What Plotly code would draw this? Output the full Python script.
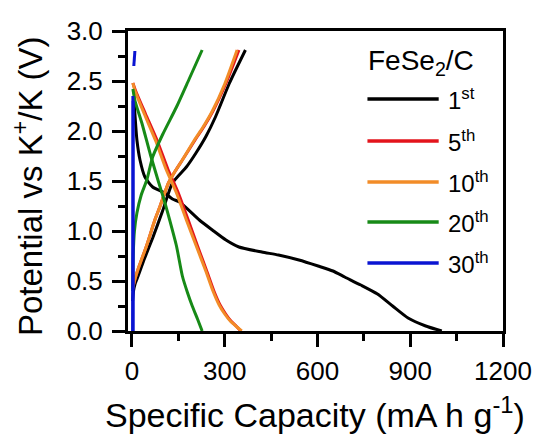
import plotly.graph_objects as go

# ---- data ----
cycles = ["1<sup>st</sup>", "5<sup>th</sup>", "10<sup>th</sup>", "20<sup>th</sup>", "30<sup>th</sup>"]
colors = ["#000000", "#E3141C", "#F28C28", "#178A17", "#0A14D2"]

c1_dis_x = [6, 10, 16, 26, 42, 67, 106, 131, 154, 218, 260, 304, 346, 420, 474, 540, 602, 650, 688, 740, 794, 843, 893, 950, 1002]
c1_dis_y = [2.35, 2.15, 1.91, 1.71, 1.54, 1.44, 1.38, 1.32, 1.29, 1.11, 1.01, 0.91, 0.84, 0.79, 0.76, 0.71, 0.65, 0.60, 0.54, 0.46, 0.37, 0.25, 0.13, 0.05, 0.0]
c1_ch_x = [2, 5, 10, 20, 40, 67, 99, 131, 176, 207, 240, 270, 314, 340, 367]
c1_ch_y = [0.30, 0.40, 0.47, 0.55, 0.72, 0.93, 1.20, 1.48, 1.64, 1.78, 1.95, 2.14, 2.47, 2.64, 2.81]

c5_dis_x = [3, 12, 44, 82, 116, 150, 182, 212, 243, 265, 285, 303, 320, 337, 352]
c5_dis_y = [2.48, 2.40, 2.17, 1.90, 1.62, 1.38, 1.11, 0.85, 0.59, 0.40, 0.26, 0.17, 0.10, 0.05, 0.0]
c5_ch_x = [2, 8, 20, 47, 74, 90, 118, 140, 163, 204, 232, 262, 303, 346]
c5_ch_y = [0.42, 0.50, 0.62, 0.85, 1.11, 1.24, 1.48, 1.60, 1.71, 1.91, 2.04, 2.20, 2.47, 2.81]

c10_dis_x = [3, 10, 40, 77, 110, 144, 176, 208, 240, 262, 282, 300, 318, 336, 355]
c10_dis_y = [2.48, 2.40, 2.17, 1.90, 1.62, 1.38, 1.11, 0.85, 0.59, 0.40, 0.26, 0.17, 0.10, 0.05, 0.0]
c10_ch_x = [2, 8, 20, 47, 74, 90, 118, 140, 163, 202, 230, 260, 300, 340]
c10_ch_y = [0.42, 0.50, 0.62, 0.85, 1.11, 1.24, 1.48, 1.60, 1.71, 1.91, 2.04, 2.20, 2.47, 2.81]

c20_dis_x = [3, 10, 32, 60, 85, 105, 122, 144, 163, 180, 195, 212, 227]
c20_dis_y = [2.42, 2.30, 2.08, 1.76, 1.50, 1.30, 1.11, 0.85, 0.55, 0.38, 0.25, 0.12, 0.0]
c20_ch_x = [2, 4, 8, 16, 30, 48, 67, 100, 144, 185, 227]
c20_ch_y = [0.40, 0.75, 1.00, 1.18, 1.36, 1.51, 1.74, 1.97, 2.24, 2.52, 2.81]

c30_dis_x = [3, 3.5, 4, 4]
c30_dis_y = [2.35, 1.50, 0.50, 0.0]
c30_ch_x = [2, 3, 4, None, 6, 9.5]
c30_ch_y = [0.0, 1.2, 2.3, None, 2.65, 2.80]

x_ticks = [0, 300, 600, 900, 1200]
y_ticks = [0.0, 0.5, 1.0, 1.5, 2.0, 2.5, 3.0]

series = [
    (c1_dis_x, c1_dis_y, c1_ch_x, c1_ch_y),
    (c5_dis_x, c5_dis_y, c5_ch_x, c5_ch_y),
    (c10_dis_x, c10_dis_y, c10_ch_x, c10_ch_y),
    (c20_dis_x, c20_dis_y, c20_ch_x, c20_ch_y),
    (c30_dis_x, c30_dis_y, c30_ch_x, c30_ch_y),
]

FONT = "Liberation Sans, Arial, sans-serif"
fig = go.Figure()
for (dx, dy, cx, cy), name, col in zip(series, cycles, colors):
    fig.add_trace(go.Scatter(x=dx, y=dy, mode="lines", name=name,
                             line=dict(color=col, width=3, shape="spline", smoothing=0.6),
                             showlegend=False))
    fig.add_trace(go.Scatter(x=cx, y=cy, mode="lines", name=name,
                             line=dict(color=col, width=3, shape="spline", smoothing=0.6),
                             showlegend=False, connectgaps=False))

W, H = 544, 434
ml, mr, mt, mb = 128, 37, 31, 103
pw, ph = W - ml - mr, H - mt - mb

def px(x):
    return (x - ml) / pw

def py(y):
    return (H - mb - y) / ph

# manual legend
fig.add_annotation(x=px(424), y=py(62), xref="paper", yref="paper", text="FeSe<sub>2</sub>/C",
                   showarrow=False, font=dict(family=FONT, size=28, color="black"),
                   xanchor="center", yanchor="middle")
leg_y = [99, 141, 182, 222, 263]
for name, col, ly in zip(cycles, colors, leg_y):
    fig.add_shape(type="line", xref="paper", yref="paper", x0=px(370), x1=px(442),
                  y0=py(ly), y1=py(ly), line=dict(color=col, width=3.5))
    fig.add_annotation(x=px(449), y=py(ly), xref="paper", yref="paper", text=name,
                       showarrow=False, font=dict(family=FONT, size=24, color="black"),
                       xanchor="left", yanchor="middle")

# axis titles
fig.add_annotation(x=px(317), y=py(412), xref="paper", yref="paper",
                   text="Specific Capacity (mA h g<sup>-1</sup>)", showarrow=False,
                   font=dict(family=FONT, size=34, color="black"), xanchor="center", yanchor="middle")
fig.add_annotation(x=px(27), y=py(186), xref="paper", yref="paper",
                   text="Potential vs K<sup>+</sup>/K (V)", showarrow=False, textangle=-90,
                   font=dict(family=FONT, size=33, color="black"), xanchor="center", yanchor="middle")

axis_common = dict(showgrid=False, zeroline=False, showline=True, linecolor="black", linewidth=3,
                   mirror=True, ticks="outside", ticklen=13, tickwidth=3, tickcolor="black",
                   tickfont=dict(family=FONT, size=26, color="black"))
fig.update_xaxes(range=[-12.8, 1200], tickvals=x_ticks, ticktext=[str(v) for v in x_ticks],
                 ticklabelstandoff=2,
                 minor=dict(dtick=150, tick0=0, ticks="outside", ticklen=7, tickwidth=3, tickcolor="black"),
                 **axis_common)
fig.update_yaxes(range=[0, 3.0], tickvals=y_ticks, ticktext=[f"{v:.1f}" for v in y_ticks],
                 ticklabelstandoff=4,
                 minor=dict(dtick=0.25, tick0=0, ticks="outside", ticklen=7, tickwidth=3, tickcolor="black"),
                 **axis_common)
fig.update_layout(width=W, height=H, margin=dict(l=ml, r=mr, t=mt, b=mb),
                  plot_bgcolor="white", paper_bgcolor="white", showlegend=False,
                  font=dict(family=FONT, color="black"))
fig.write_html("out.html")
